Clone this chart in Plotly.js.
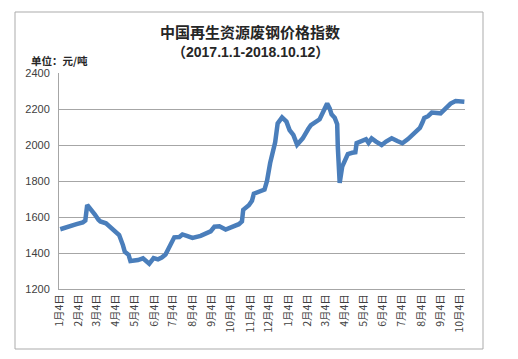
<!DOCTYPE html>
<html>
<head>
<meta charset="utf-8">
<script src="https://cdn.plot.ly/plotly-3.0.1.min.js"></script>
<style>html,body{margin:0;padding:0;background:#fff;}#chart{width:518px;height:359px;}</style>
</head>
<body>
<div id="chart"></div>
<script>
const dates = [
"2017-01-05","2017-01-17","2017-01-31","2017-02-10","2017-02-14","2017-02-17","2017-02-21","2017-02-26","2017-03-01","2017-03-07",
"2017-03-10","2017-03-19","2017-03-27","2017-04-03","2017-04-09","2017-04-15","2017-04-18","2017-04-24","2017-04-27","2017-05-09",
"2017-05-17","2017-05-27","2017-06-03","2017-06-10","2017-06-16","2017-06-22","2017-06-26","2017-06-30","2017-07-06","2017-07-14",
"2017-07-19","2017-07-26","2017-08-04","2017-08-17","2017-08-25","2017-09-02","2017-09-08","2017-09-16","2017-09-26","2017-10-09",
"2017-10-17","2017-10-22","2017-10-24","2017-11-02","2017-11-07","2017-11-10","2017-11-20","2017-11-27","2017-12-01","2017-12-06",
"2017-12-14","2017-12-18","2017-12-25","2017-12-28","2018-01-01","2018-01-06","2018-01-12","2018-01-18","2018-01-27","2018-02-05",
"2018-02-09","2018-02-23","2018-02-27","2018-03-03","2018-03-07","2018-03-11","2018-03-14","2018-03-19","2018-03-23","2018-03-24",
"2018-03-26","2018-03-27","2018-03-31","2018-04-04","2018-04-09","2018-04-16","2018-04-21","2018-04-23","2018-05-03","2018-05-08",
"2018-05-12","2018-05-17","2018-05-24","2018-06-02","2018-06-09","2018-06-18","2018-06-27","2018-07-05","2018-07-14","2018-07-21",
"2018-07-29","2018-08-02","2018-08-06","2018-08-09","2018-08-15","2018-08-21","2018-09-04","2018-09-13","2018-09-20","2018-09-28",
"2018-10-06","2018-10-12"];
const prices = [
1532,1542,1560,1570,1580,1667,1650,1635,1615,1585,
1575,1565,1540,1525,1500,1444,1407,1390,1355,1361,
1370,1340,1372,1365,1375,1392,1417,1450,1487,1489,
1503,1495,1484,1495,1505,1520,1546,1548,1530,1546,
1560,1575,1640,1665,1690,1730,1741,1752,1800,1900,
2015,2120,2153,2140,2130,2083,2056,2002,2037,2090,
2110,2143,2176,2210,2231,2204,2170,2152,2115,1990,
1861,1790,1880,1915,1950,1957,1960,2010,2026,2032,
2012,2037,2019,2000,2019,2037,2022,2010,2033,2056,
2074,2095,2125,2150,2160,2180,2176,2207,2230,2244,
2243,2240];
const tickDates = ["2017-01-04","2017-02-04","2017-03-04","2017-04-04","2017-05-04","2017-06-04","2017-07-04","2017-08-04","2017-09-04","2017-10-04","2017-11-04","2017-12-04",
"2018-01-04","2018-02-04","2018-03-04","2018-04-04","2018-05-04","2018-06-04","2018-07-04","2018-08-04","2018-09-04","2018-10-04"];
const tickLabels = ["1月4日","2月4日","3月4日","4月4日","5月4日","6月4日","7月4日","8月4日","9月4日","10月4日","11月4日","12月4日",
"1月4日","2月4日","3月4日","4月4日","5月4日","6月4日","7月4日","8月4日","9月4日","10月4日"];
const yTicks = [1200,1400,1600,1800,2000,2200,2400];
const titleLine1 = "中国再生资源废钢价格指数";
const titleLine2 = "（2017.1.1-2018.10.12）";
const unitText = "单位：元/吨";

const cjk = '"Noto Sans CJK SC", "Liberation Sans", sans-serif';
const latin = '"Liberation Sans", "Noto Sans CJK SC", sans-serif';
const L = 59, R = 465, T = 73, B = 289, W = 518, H = 359;
const pw = R - L, ph = B - T;
const px = x => (x - L) / pw;
const py = y => (B - y) / ph;

const trace = {
  x: dates, y: prices, type: 'scatter', mode: 'lines',
  line: {color: '#4a7ebb', width: 4.5, shape: 'linear'},
  hoverinfo: 'x+y'
};

const layout = {
  width: W, height: H,
  margin: {l: L, r: W - R, t: T, b: H - B, pad: 0},
  paper_bgcolor: '#ffffff', plot_bgcolor: '#ffffff',
  showlegend: false,
  font: {family: cjk, color: '#404040', size: 11},
  xaxis: {
    type: 'date', range: ['2017-01-03', '2018-10-13'],
    tickmode: 'array', tickvals: tickDates, ticktext: tickLabels,
    tickangle: -90, ticks: '', showgrid: false, zeroline: false,
    showline: true, linecolor: '#a6a6a6', linewidth: 1,
    tickfont: {family: cjk, size: 10.5, color: '#404040'}
  },
  yaxis: {
    range: [1200, 2400], tickmode: 'array', tickvals: yTicks,
    ticks: '', showgrid: true, gridcolor: '#a6a6a6', gridwidth: 1,
    zeroline: false, showline: true, linecolor: '#a6a6a6', linewidth: 1,
    tickfont: {family: '"Liberation Sans", Arial, sans-serif', size: 11, color: '#404040'},
    ticklabelstandoff: 6
  },
  shapes: [{
    type: 'rect', xref: 'paper', yref: 'paper', layer: 'below',
    x0: px(15), x1: px(483), y0: py(349), y1: py(12),
    line: {color: '#ababab', width: 1}, fillcolor: 'rgba(0,0,0,0)'
  }],
  annotations: [
    {text: '<b>' + titleLine1 + '</b>', xref: 'paper', yref: 'paper', x: px(250), y: py(31.5),
     xanchor: 'center', yanchor: 'middle', showarrow: false,
     font: {family: cjk, size: 15, color: '#262626'}},
    {text: '<b>' + titleLine2 + '</b>', xref: 'paper', yref: 'paper', x: px(250), y: py(51.5),
     xanchor: 'center', yanchor: 'middle', showarrow: false,
     font: {family: latin, size: 14, color: '#262626'}},
    {text: '<b>' + unitText + '</b>', xref: 'paper', yref: 'paper', x: px(29), y: py(61),
     xanchor: 'left', yanchor: 'middle', showarrow: false,
     font: {family: cjk, size: 10.5, color: '#262626'}}
  ]
};

Plotly.newPlot('chart', [trace], layout, {displayModeBar: false, staticPlot: true});
</script>
</body>
</html>
